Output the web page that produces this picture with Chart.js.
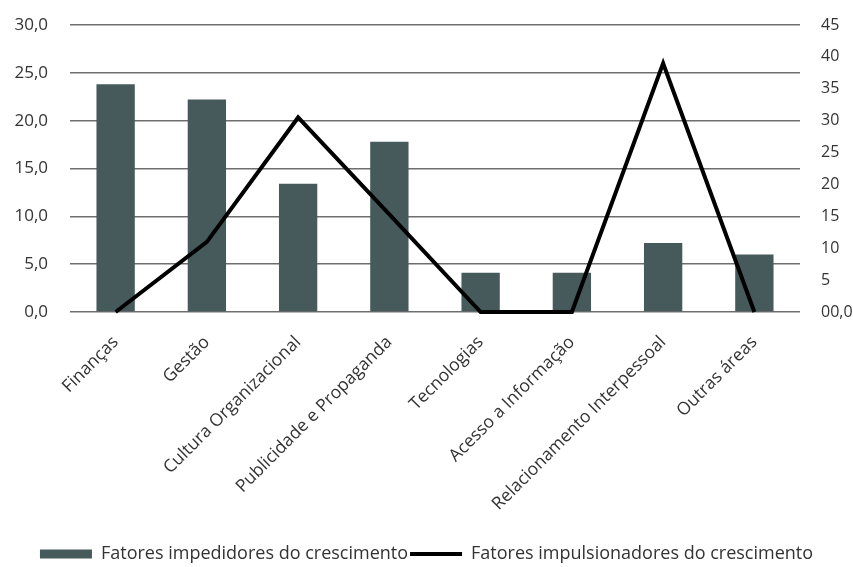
<!DOCTYPE html>
<html>
<head>
<meta charset="utf-8">
<script src="https://cdn.jsdelivr.net/npm/chart.js@4/dist/chart.umd.min.js"></script>
<style>
  html, body { margin: 0; padding: 0; background: #ffffff; }
  #wrap { width: 853px; height: 567px; position: relative; }
</style>
</head>
<body>
<div id="wrap"><canvas id="chart"></canvas></div>
<script>
// Áreas avaliadas
const categories = [
  'Finanças',
  'Gestão',
  'Cultura Organizacional',
  'Publicidade e Propaganda',
  'Tecnologias',
  'Acesso a Informação',
  'Relacionamento Interpessoal',
  'Outras áreas'
];

// Fatores impedidores do crescimento (eixo esquerdo)
const impedidores = [23.8, 22.2, 13.4, 17.8, 4.1, 4.1, 7.2, 6.0];

// Fatores impulsionadores do crescimento (eixo direito)
const impulsionadores = [0, 11, 30.5, 15.3, 0, 0, 39, 0];

// Rótulos dos eixos
const leftTicks = ['0,0', '5,0', '10,0', '15,0', '20,0', '25,0', '30,0'];
const rightTicks = ['00,0', '5', '10', '15', '20', '25', '30', '35', '40', '45'];

const FONT = '"Open Sans", "Noto Sans", sans-serif';
const TEXT = '#333333';

// Eixos verticais sem folga extra acima/abaixo da área de plotagem
const noPad = (s, w) => { s.width = w; s.paddingTop = 0; s.paddingBottom = 0; };

new Chart(document.getElementById('chart'), {
  data: {
    labels: categories,
    datasets: [
      {
        type: 'bar',
        label: 'Fatores impedidores do crescimento',
        data: impedidores,
        yAxisID: 'y',
        backgroundColor: '#465a5c',
        borderWidth: 0,
        barPercentage: 0.42,
        categoryPercentage: 1.0,
        pointStyle: 'rect',
        order: 1
      },
      {
        type: 'line',
        label: 'Fatores impulsionadores do crescimento',
        data: impulsionadores,
        yAxisID: 'y1',
        borderColor: '#000000',
        backgroundColor: '#000000',
        borderWidth: 4,
        tension: 0,
        pointRadius: 0,
        pointHoverRadius: 0,
        pointStyle: 'line',
        borderJoinStyle: 'miter',
        clip: false,
        order: 0
      }
    ]
  },
  options: {
    responsive: true,
    maintainAspectRatio: false,
    animation: false,
    layout: { padding: { top: 25, left: 0, right: 0, bottom: -6 } },
    plugins: {
      tooltip: { enabled: false },
      legend: {
        position: 'bottom',
        labels: {
          usePointStyle: true,
          pointStyleWidth: 52,
          boxHeight: 9,
          padding: 2,
          color: TEXT,
          font: { family: FONT, size: 18 },
          sort: (a, b) => a.datasetIndex - b.datasetIndex
        }
      }
    },
    scales: {
      x: {
        grid: { display: false },
        border: { display: false },
        ticks: {
          color: TEXT,
          font: { family: FONT, size: 17.5 },
          minRotation: 45,
          maxRotation: 45,
          autoSkip: false,
          padding: 12
        },
        afterFit: (s) => { s.height = 231; }
      },
      y: {
        position: 'left',
        min: 0,
        max: 30,
        border: { display: false },
        grid: { color: '#6e6e6e', lineWidth: 1.5, drawTicks: false },
        ticks: {
          stepSize: 5,
          padding: 22,
          color: TEXT,
          font: { family: FONT, size: 17 },
          callback: (v) => leftTicks[Math.round(v / 5)]
        },
        afterFit: (s) => noPad(s, 70)
      },
      y1: {
        position: 'right',
        min: 0,
        max: 45,
        border: { display: false },
        grid: { display: false, drawTicks: false },
        ticks: {
          stepSize: 5,
          padding: 21,
          color: TEXT,
          font: { family: FONT, size: 16 },
          callback: (v) => rightTicks[Math.round(v / 5)]
        },
        afterFit: (s) => noPad(s, 53)
      }
    }
  }
});
</script>
</body>
</html>
